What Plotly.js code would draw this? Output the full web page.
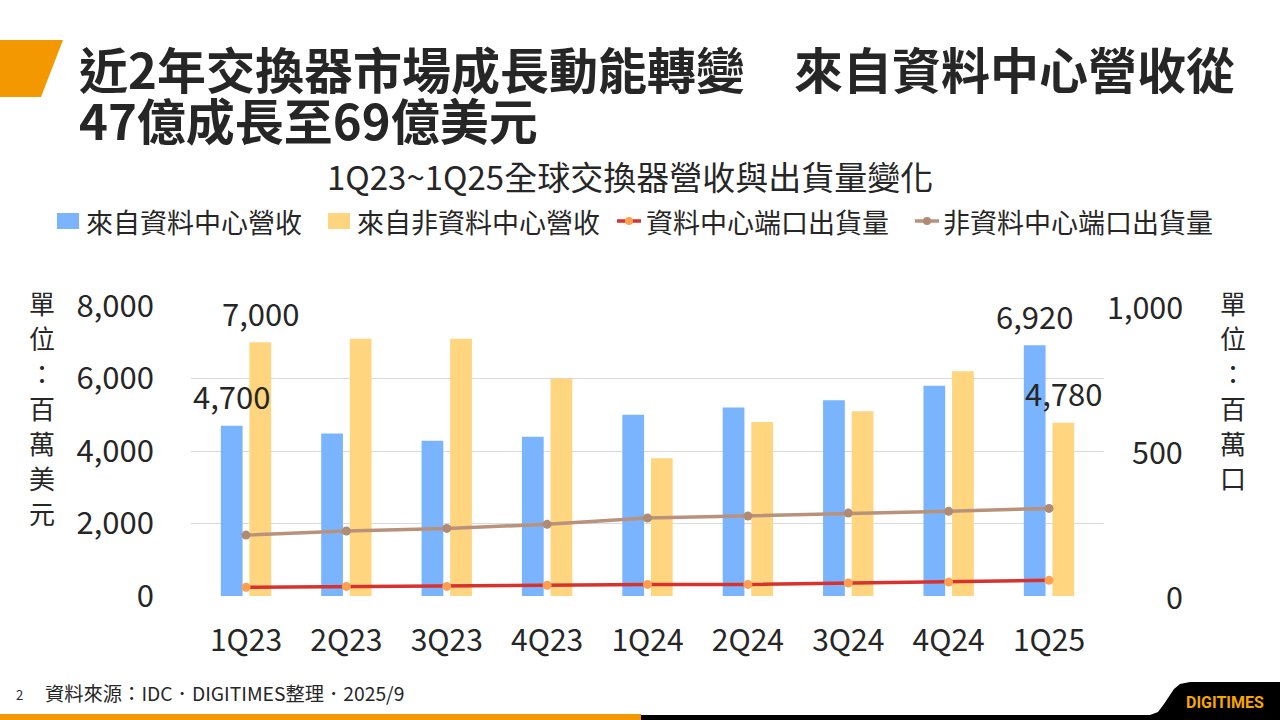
<!DOCTYPE html>
<html>
<head>
<meta charset="utf-8">
<script src="https://cdn.plot.ly/plotly-3.0.1.min.js"></script>
<style>
html,body{margin:0;padding:0;background:#fff;}
#chart{width:1280px;height:720px;}
</style>
</head>
<body>
<div id="chart"></div>
<script>
// ---- data ----
const categories = ['1Q23','2Q23','3Q23','4Q23','1Q24','2Q24','3Q24','4Q24','1Q25'];
const dcRevenue = [4700,4480,4280,4390,5000,5200,5400,5800,6920];
const nonDcRevenue = [7000,7100,7100,6000,3800,4800,5100,6200,4780];
const dcPorts = [30,33,33,37,40,40,45,48,54];
const nonDcPorts = [210,224,233,247,269,276,286,292,302];
const seriesNames = ['來自資料中心營收','來自非資料中心營收','資料中心端口出貨量','非資料中心端口出貨量'];
const leftTicks = [0,2000,4000,6000,8000];
const rightTicks = [0,500,1000];
const labelIdx = [0, 8]; // points whose values are labelled

const titleLine1 = '近2年交換器市場成長動能轉變　來自資料中心營收從';
const titleLine2 = '47億成長至69億美元';
const subTitle = '1Q23~1Q25全球交換器營收與出貨量變化';
const leftUnit = '單位：百萬美元';
const rightUnit = '單位：百萬口';
const sourceText = '資料來源：IDC．DIGITIMES整理．2025/9';

// ---- geometry helpers ----
const W = 1280, H = 720;
const M = {l:191, r:176, t:306, b:124};
const PW = W - M.l - M.r, PH = H - M.t - M.b;
const px = x => (x - M.l) / PW;
const py = y => (H - M.b - y) / PH;
const FONT = '"Noto Sans CJK TC", "Noto Sans", sans-serif';
const TXT = '#262626';
const fmt = v => v.toLocaleString('en-US');

const colors = {dc:'#7AB4FF', nonDc:'#FFD57F', dcLine:'#D8322F', dcMarker:'#FFA050', nonDcLine:'#B8927A', nonDcMarker:'#B08B74'};

const traces = [
  {type:'bar', name:seriesNames[0], x:categories, y:dcRevenue, marker:{color:colors.dc}},
  {type:'bar', name:seriesNames[1], x:categories, y:nonDcRevenue, marker:{color:colors.nonDc}},
  {type:'scatter', mode:'lines+markers', name:seriesNames[2], x:categories, y:dcPorts, yaxis:'y2',
   line:{color:colors.dcLine, width:3.5}, marker:{color:colors.dcMarker, size:9}},
  {type:'scatter', mode:'lines+markers', name:seriesNames[3], x:categories, y:nonDcPorts, yaxis:'y2',
   line:{color:colors.nonDcLine, width:3.5}, marker:{color:colors.nonDcMarker, size:9}}
];

const annotations = [];
const shapes = [];
function pathOf(pts){
  return 'M' + pts.map(p => px(p[0]).toFixed(5)+','+py(p[1]).toFixed(5)).join(' L') + ' Z';
}

// titles
annotations.push({xref:'paper', yref:'paper', x:px(77), y:py(68), xanchor:'left', yanchor:'middle', showarrow:false,
  text:'<b>'+titleLine1+'</b>', font:{family:FONT, size:49, color:TXT}});
annotations.push({xref:'paper', yref:'paper', x:px(77), y:py(118), xanchor:'left', yanchor:'middle', showarrow:false,
  text:'<b>'+titleLine2+'</b>', font:{family:FONT, size:49, color:TXT}});
annotations.push({xref:'paper', yref:'paper', x:px(630), y:py(176), xanchor:'center', yanchor:'middle', showarrow:false,
  text:subTitle, font:{family:FONT, size:33, color:TXT}});

// legend (drawn manually so it stays on one row like the reference)
const LEG_Y = 221;
const legendItems = [
  {kind:'bar', x:57, color:colors.dc, textX:84},
  {kind:'bar', x:328, color:colors.nonDc, textX:355},
  {kind:'line', x:617, color:colors.dcLine, mcolor:colors.dcMarker, textX:644},
  {kind:'line', x:915, color:colors.nonDcLine, mcolor:colors.nonDcMarker, textX:941}
];
legendItems.forEach((it, i) => {
  if (it.kind === 'bar') {
    shapes.push({type:'rect', xref:'paper', yref:'paper', x0:px(it.x), x1:px(it.x+22), y0:py(LEG_Y-8), y1:py(LEG_Y+8),
      fillcolor:it.color, line:{width:0}});
  } else {
    shapes.push({type:'line', xref:'paper', yref:'paper', x0:px(it.x), x1:px(it.x+24), y0:py(LEG_Y), y1:py(LEG_Y),
      line:{color:it.color, width:3.5}});
    shapes.push({type:'circle', xref:'paper', yref:'paper', x0:px(it.x+8), x1:px(it.x+16), y0:py(LEG_Y-4), y1:py(LEG_Y+4),
      fillcolor:it.mcolor, line:{width:0}});
  }
  annotations.push({xref:'paper', yref:'paper', x:px(it.textX), y:py(LEG_Y), xanchor:'left', yanchor:'middle',
    showarrow:false, text:seriesNames[i], font:{family:FONT, size:27, color:TXT}});
});

// unit labels (one character per row, stacked vertically)
function stacked(str, cx, topY){
  str.split('').forEach((ch, k) => annotations.push({xref:'paper', yref:'paper', x:px(cx), y:py(topY + k*35),
    xanchor:'center', yanchor:'middle', showarrow:false, text:ch, font:{family:FONT, size:26, color:TXT}}));
}
stacked(leftUnit, 42, 302);
stacked(rightUnit, 1233, 302);

// right axis tick labels (right-aligned)
rightTicks.forEach(v => annotations.push({xref:'paper', yref:'y2', x:px(1185), y:v, xanchor:'right', yanchor:'middle',
  showarrow:false, text:fmt(v), font:{family:FONT, size:30.5, color:TXT}}));
// data labels
labelIdx.forEach(i => {
  annotations.push({xref:'x', yref:'y', x:categories[i], y:dcRevenue[i], xshift:-14.5, yshift:30, yanchor:'middle',
    showarrow:false, text:fmt(dcRevenue[i]), font:{family:FONT, size:31, color:TXT}});
  annotations.push({xref:'x', yref:'y', x:categories[i], y:nonDcRevenue[i], xshift:14.5, yshift:30, yanchor:'middle',
    showarrow:false, text:fmt(nonDcRevenue[i]), font:{family:FONT, size:31, color:TXT}});
});
// footer
annotations.push({xref:'paper', yref:'paper', x:px(14), y:py(694), xanchor:'left', yanchor:'middle', showarrow:false,
  text:'2', font:{family:FONT, size:13, color:TXT}});
annotations.push({xref:'paper', yref:'paper', x:px(43), y:py(693), xanchor:'left', yanchor:'middle', showarrow:false,
  text:sourceText, font:{family:FONT, size:19.3, color:TXT}});
annotations.push({xref:'paper', yref:'paper', x:px(1225), y:py(702), xanchor:'center', yanchor:'middle', showarrow:false,
  text:'<b>DIGITIMES</b>', font:{family:'Roboto, sans-serif', size:16, color:'#F5A700'}});

shapes.push(
  {type:'path', xref:'paper', yref:'paper', path:pathOf([[0,40],[63,40],[41,97],[0,97]]),
   fillcolor:'#F39800', line:{width:0}},
  {type:'rect', xref:'paper', yref:'paper', x0:px(0), x1:px(641), y0:py(714), y1:py(721),
   fillcolor:'#F39800', line:{width:0}},
  {type:'path', xref:'paper', yref:'paper',
   path:pathOf([[641,715],[1150,715],[1158,712],[1164,704],[1174,689],[1180,684],[1190,682],[1281,682],[1281,721],[641,721]]),
   fillcolor:'#000000', line:{width:0}}
);

const layout = {
  width:W, height:H,
  margin:{l:M.l, r:M.r, t:M.t, b:M.b, pad:0, autoexpand:false},
  paper_bgcolor:'#fff', plot_bgcolor:'#fff',
  font:{family:FONT, color:TXT},
  barmode:'group', bargap:0.43, bargroupgap:0.24,
  showlegend:false,
  xaxis:{type:'category', tickfont:{family:FONT, size:30, color:TXT}, showgrid:false, zeroline:false,
    showline:false, ticks:'', ticklabelstandoff:24, fixedrange:true},
  yaxis:{range:[0,8000], tickvals:leftTicks, ticktext:leftTicks.map(fmt), showgrid:true, gridcolor:'#D9D9D9',
    gridwidth:1, zeroline:false, showline:false, ticks:'', tickfont:{family:FONT, size:31, color:TXT},
    ticklabelstandoff:36, fixedrange:true},
  yaxis2:{range:[0,1000], overlaying:'y', side:'right', tickvals:rightTicks, showticklabels:false, showgrid:false,
    zeroline:false, showline:false, ticks:'', fixedrange:true},
  annotations:annotations,
  shapes:shapes
};

Plotly.newPlot('chart', traces, layout, {staticPlot:true, displayModeBar:false});
</script>
</body>
</html>
